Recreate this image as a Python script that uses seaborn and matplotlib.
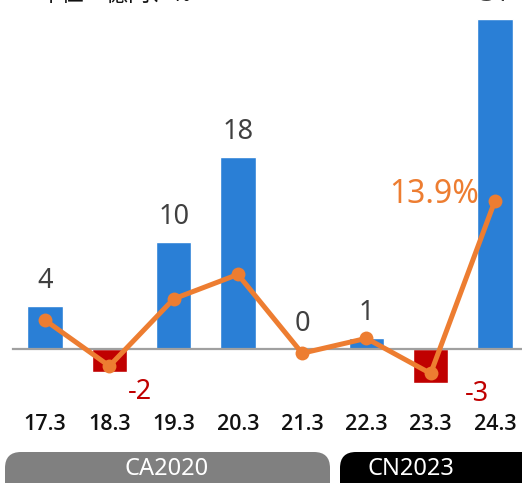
import numpy as np
import pandas as pd
import matplotlib
matplotlib.use("Agg")
import matplotlib.pyplot as plt
from matplotlib.patches import FancyBboxPatch
import seaborn as sns

categories = ["17.3", "18.3", "19.3", "20.3", "21.3", "22.3", "23.3", "24.3"]
profit = [4, -2.2, 10, 18, 0, 1, -3.2, 31]
rate = [2.7, -1.6, 4.7, 7.0, -0.4, 1.0, -2.3, 13.9]
groups = ["CA2020", "CN2023"]
unit_label = "単位：億円、%"

BLUE = "#2A7FD6"
RED = "#C00000"
ORANGE = "#ED7D31"
DARK = "#404040"

sns.set_theme(style="white")
plt.rcParams["font.family"] = ["Noto Sans", "Noto Sans CJK JP", "DejaVu Sans"]

df = pd.DataFrame({"cat": categories, "profit": profit, "rate": rate})
colors = [BLUE if v >= 0 else RED for v in profit]

fig = plt.figure(figsize=(5.22, 4.83), dpi=100)
W, H = 522, 483
ax = fig.add_axes([13 / W, 83 / H, 514 / W, 400 / H])

sns.barplot(data=df, x="cat", y="profit", hue="cat", palette=colors,
            legend=False, width=0.55, ax=ax, saturation=1)
ylim = (-4.79, 32.77)
ax.set_ylim(*ylim)
ax.set_xlim(-0.5, len(categories) - 0.5)

ax2 = ax.twinx()
ax2.set_ylim(*ylim)
sns.lineplot(x=np.arange(len(categories)), y=df["rate"], ax=ax2, color=ORANGE,
             lw=3.6, marker="o", markersize=10, markeredgewidth=0)
ax2.set_axis_off()

# axis styling
for s in ["left", "right", "top"]:
    ax.spines[s].set_visible(False)
ax.spines["bottom"].set_position(("data", 0))
ax.spines["bottom"].set_color("#A0A0A0")
ax.spines["bottom"].set_linewidth(1.6)
ax.set_yticks([])
ax.set_xlabel("")
ax.set_ylabel("")
ax.set_xticks(range(len(categories)))
ax.set_xticklabels(categories, fontsize=15.5, color="#111111", fontweight="semibold",
                   family=["Open Sans", "Noto Sans", "DejaVu Sans"])
ax.tick_params(axis="x", which="major", length=0, pad=47)
ax.set_xticks(np.arange(len(categories) + 1) - 0.5, minor=True)
ax.tick_params(axis="x", which="minor", length=4, width=1, color="#D0D0D0", direction="out")

# bar labels
neg_offsets = {1: (22, -14), 6: (33, -8)}
for i, v in enumerate(profit):
    txt = f"{v:.0f}"
    if v >= 0:
        ax.annotate(txt, (i, v), xytext=(0, 18), textcoords="offset points",
                    ha="center", va="center", fontsize=19.5, color=DARK)
    else:
        ax.annotate(txt, (i, v), xytext=neg_offsets.get(i, (22, -12)),
                    textcoords="offset points", ha="center", va="center",
                    fontsize=19.5, color=RED)

last = len(rate) - 1
ax2.annotate(f"{rate[last]}%", (last, rate[last]), xytext=(-44, 5),
             textcoords="offset points", ha="center", va="center",
             fontsize=23, color=ORANGE)

# group pills
pax = fig.add_axes([0, 0, 1, 1])
pax.set_xlim(0, W)
pax.set_ylim(H, 0)
pax.set_axis_off()
pill_specs = [(5, 330, "#808080", 167), (340, 540, "#000000", 411)]
for (x0, x1, col, tx), name in zip(pill_specs, groups):
    p = FancyBboxPatch((x0, 452), x1 - x0, 50,
                       boxstyle="round,pad=0,rounding_size=16",
                       fc=col, ec="none", mutation_aspect=1)
    pax.add_patch(p)
    pax.text(tx, 469, name, color="white", fontsize=17, ha="center", va="center")

fig.text(40 / W, 1 - 7 / H, unit_label, fontsize=16, ha="left", va="bottom",
         color="#111111")

fig.savefig("out.png", dpi=100)
